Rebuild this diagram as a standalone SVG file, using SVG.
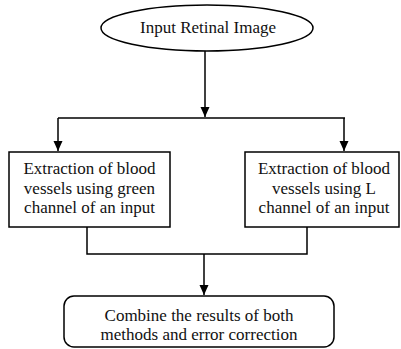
<svg xmlns="http://www.w3.org/2000/svg" width="401" height="349" viewBox="0 0 401 349">
<defs>
<marker id="arr" viewBox="0 0 10 10" refX="10" refY="5" markerWidth="10" markerHeight="10" markerUnits="userSpaceOnUse" orient="auto">
<path d="M0,0.5 L10,5 L0,9.5 Z" fill="#000"/>
</marker>
<style>
.shape{fill:#fff;stroke:#000;stroke-width:1.5}
.line{fill:none;stroke:#000;stroke-width:1.5}
.t{font-size:17px;fill:#111;text-anchor:middle}
</style>
</defs>
<rect width="401" height="349" fill="#fff"/>
<g id="connectors">
<path class="line" d="M205,51 V117" marker-end="url(#arr)"/>
<path class="line" d="M58,118 H345"/>
<path class="line" d="M58,118 V151" marker-end="url(#arr)"/>
<path class="line" d="M344,118 V151" marker-end="url(#arr)"/>
<path class="line" d="M87,227 V254 H307 V227"/>
<path class="line" d="M204,254 V295" marker-end="url(#arr)"/>
</g>
<g font-family="'Liberation Serif', 'Times New Roman', 'DejaVu Serif', serif">
<g id="input">
<ellipse class="shape" cx="207" cy="28" rx="106" ry="23"/>
<text class="t" x="208" y="33">Input Retinal Image</text>
</g>
<g id="green">
<rect class="shape" x="9" y="152" width="161" height="75"/>
<text class="t" x="89.5" y="174">Extraction of blood</text>
<text class="t" x="89.5" y="193.5">vessels using green</text>
<text class="t" x="89.5" y="213">channel of an input</text>
</g>
<g id="lchannel">
<rect class="shape" x="245" y="152" width="154" height="75"/>
<text class="t" x="324" y="174">Extraction of blood</text>
<text class="t" x="324" y="193.5">vessels using L</text>
<text class="t" x="324" y="213">channel of an input</text>
</g>
<g id="combine">
<rect class="shape" x="64" y="296" width="270" height="51" rx="10" ry="10"/>
<text class="t" x="199" y="321">Combine the results of both</text>
<text class="t" x="199" y="340">methods and error correction</text>
</g>
</g>
</svg>
